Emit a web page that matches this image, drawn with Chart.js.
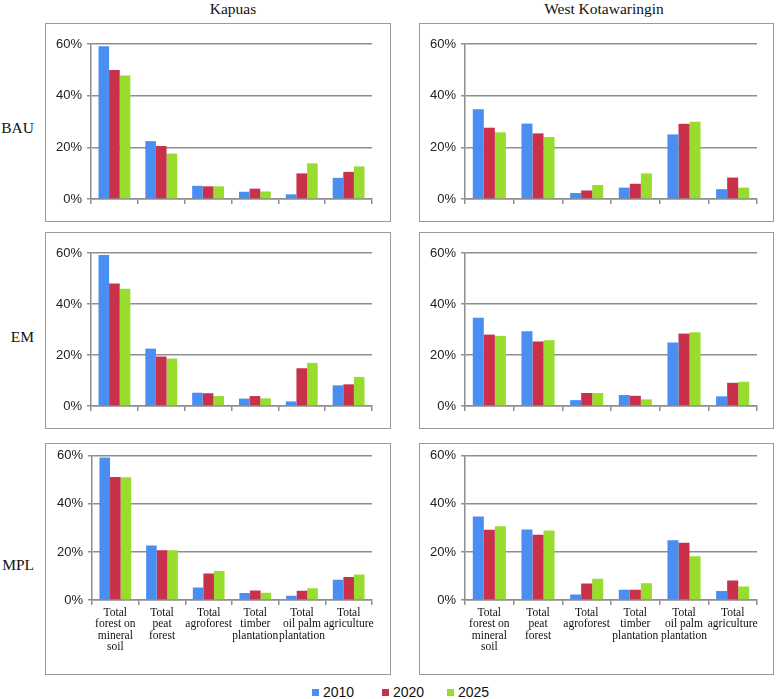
<!DOCTYPE html>
<html>
<head>
<meta charset="utf-8">
<script src="https://cdn.jsdelivr.net/npm/chart.js@4/dist/chart.umd.min.js"></script>
<style>
  body { margin: 0; background: #fff; width: 780px; height: 699px; position: relative; overflow: hidden; }
  .box { position: absolute; box-sizing: border-box; border: 1.5px solid #9a9a9a; }
  canvas { position: absolute; }
  .title { position: absolute; font-family: "Liberation Serif", serif; font-size: 15.5px; color: #111; }
  .rowlab { position: absolute; font-family: "Liberation Serif", serif; font-size: 15.5px; color: #111; text-align: right; width: 40px; }
  .leg { position: absolute; top: 684px; font-family: "Liberation Sans", sans-serif; font-size: 14px; color: #111; }
  .leg span { display: inline-block; width: 7px; height: 7px; margin-right: 4px; vertical-align: 1px; }
</style>
</head>
<body>
<script>
// categories (multi-line labels)
var categories = [
  ['Total', 'forest on', 'mineral', 'soil'],
  ['Total', 'peat', 'forest'],
  ['Total', 'agroforest'],
  ['Total', 'timber', 'plantation'],
  ['Total', 'oil palm', 'plantation'],
  ['Total', 'agriculture']
];
var years = ['2010', '2020', '2025'];
var colors = ['#4a8ef2', '#c9304a', '#98dc2e'];
var yTickLabels = ['0%', '20%', '40%', '60%'];

// values in %, one row per year (2010, 2020, 2025)
var kapuasBAU = [
  [59.1, 22.4, 5.1, 2.8, 1.8, 8.2],
  [49.9, 20.5, 4.9, 4.0, 9.9, 10.5],
  [47.8, 17.6, 4.9, 2.9, 13.8, 12.6]
];
var westBAU = [
  [34.7, 29.2, 2.3, 4.4, 25.0, 3.8],
  [27.6, 25.4, 3.3, 5.9, 29.1, 8.3],
  [25.8, 24.0, 5.4, 9.9, 29.9, 4.4]
];
var kapuasEM = [
  [59.2, 22.5, 5.2, 2.9, 1.8, 8.1],
  [48.0, 19.4, 5.0, 3.9, 14.8, 8.5],
  [46.0, 18.6, 3.9, 3.0, 16.9, 11.4]
];
var westEM = [
  [34.6, 29.3, 2.3, 4.3, 24.9, 3.8],
  [28.0, 25.3, 5.1, 4.0, 28.4, 9.1],
  [27.5, 25.8, 5.1, 2.6, 28.9, 9.5]
];
var kapuasMPL = [
  [59.3, 22.7, 5.2, 2.9, 1.8, 8.4],
  [51.2, 20.7, 11.0, 4.0, 3.8, 9.6],
  [51.1, 20.7, 12.1, 3.0, 4.9, 10.6]
];
var westMPL = [
  [34.7, 29.3, 2.3, 4.3, 24.9, 3.7],
  [29.2, 27.1, 6.9, 4.3, 23.8, 8.1],
  [30.7, 28.9, 8.8, 7.0, 18.2, 5.6]
];

var columnTitles = ['Kapuas', 'West Kotawaringin'];
var rowTitles = ['BAU', 'EM', 'MPL'];

// layout: box [x0, y0, x1, y1], plot area [x0, y0, x1, y1]
var panels = [
  { data: kapuasBAU, box: [45, 23, 391, 222], plot: [91, 44, 372, 199], labels: false },
  { data: westBAU, box: [419, 23, 774, 222], plot: [465, 44, 757, 199], labels: false },
  { data: kapuasEM, box: [45, 232, 391, 429], plot: [91, 253, 372, 406], labels: false },
  { data: westEM, box: [419, 232, 774, 429], plot: [465, 253, 757, 406], labels: false },
  { data: kapuasMPL, box: [45, 443, 391, 675], plot: [92, 454, 372, 600], labels: true },
  { data: westMPL, box: [419, 443, 774, 675], plot: [465, 454, 757, 600], labels: true }
];

var axisColor = '#8e8e8e';
var yW = 40;

panels.forEach(function (p) {
  var box = document.createElement('div');
  box.className = 'box';
  box.style.left = p.box[0] + 'px';
  box.style.top = p.box[1] + 'px';
  box.style.width = (p.box[2] - p.box[0]) + 'px';
  box.style.height = (p.box[3] - p.box[1]) + 'px';
  document.body.appendChild(box);

  var cv = document.createElement('canvas');
  var w = p.box[2] - p.box[0], h = p.box[3] - p.box[1];
  cv.width = w; cv.height = h;
  cv.style.left = p.box[0] + 'px';
  cv.style.top = p.box[1] + 'px';
  cv.style.width = w + 'px';
  cv.style.height = h + 'px';
  document.body.appendChild(cv);

  var xH = p.labels ? 60 : 6;

  new Chart(cv.getContext('2d'), {
    type: 'bar',
    data: {
      labels: categories,
      datasets: years.map(function (y, i) {
        return {
          label: y,
          data: p.data[i],
          backgroundColor: colors[i],
          borderWidth: 0,
          barPercentage: 1,
          categoryPercentage: 0.68
        };
      })
    },
    options: {
      responsive: false,
      animation: false,
      layout: {
        padding: {
          left: p.plot[0] - p.box[0] - yW,
          top: p.plot[1] - p.box[1],
          right: p.box[2] - p.plot[2],
          bottom: p.box[3] - p.plot[3] - xH
        }
      },
      plugins: { legend: { display: false }, tooltip: { enabled: false } },
      scales: {
        x: {
          grid: { offset: true, drawOnChartArea: false, drawTicks: true, tickLength: 5, color: axisColor, lineWidth: 1.5 },
          border: { color: axisColor, width: 1.5 },
          ticks: {
            display: p.labels,
            maxRotation: 0,
            autoSkip: false,
            padding: 2,
            color: '#111',
            font: { family: 'Liberation Serif', size: 11.5, lineHeight: 1.0 }
          },
          afterFit: function (s) { s.height = xH; }
        },
        y: {
          min: 0,
          max: 60,
          grid: { color: axisColor, lineWidth: 1.5, tickLength: 4 },
          border: { color: axisColor, width: 1.5 },
          ticks: {
            stepSize: 20,
            padding: 5,
            color: '#222',
            font: { family: 'Liberation Sans', size: 13 },
            callback: function (v, i) { return yTickLabels[i]; }
          },
          afterFit: function (s) { s.width = yW; }
        }
      }
    }
  });
});

// column titles
[[233, columnTitles[0]], [604, columnTitles[1]]].forEach(function (t) {
  var d = document.createElement('div');
  d.className = 'title';
  d.textContent = t[1];
  d.style.top = '0px';
  d.style.left = t[0] + 'px';
  d.style.transform = 'translateX(-50%)';
  document.body.appendChild(d);
});

// row titles
[128, 337, 565].forEach(function (y, i) {
  var d = document.createElement('div');
  d.className = 'rowlab';
  d.textContent = rowTitles[i];
  d.style.left = '-6px';
  d.style.top = (y - 9) + 'px';
  document.body.appendChild(d);
});

// legend
[312, 382, 447].forEach(function (x, i) {
  var d = document.createElement('div');
  d.className = 'leg';
  d.style.left = x + 'px';
  d.innerHTML = '<span style="background:' + colors[i] + '"></span>' + years[i];
  document.body.appendChild(d);
});
</script>
</body>
</html>
